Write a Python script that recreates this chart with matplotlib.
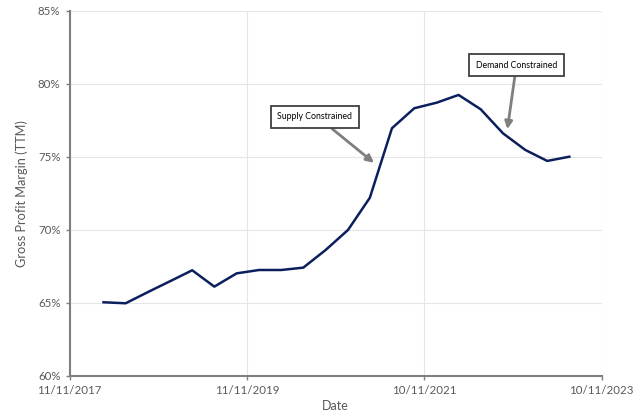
import pandas as pd
import matplotlib.pyplot as plt
import matplotlib.dates as mdates
from matplotlib.ticker import FuncFormatter

# Kvartalsdata, bruttomarginal (TTM) i procent
dates = ["2018-03-31", "2018-06-30", "2018-09-30", "2018-12-31",
         "2019-03-31", "2019-06-30", "2019-09-30", "2019-12-31",
         "2020-03-31", "2020-06-30", "2020-09-30", "2020-12-31",
         "2021-03-31", "2021-06-30", "2021-09-30", "2021-12-31",
         "2022-03-31", "2022-06-30", "2022-09-30", "2022-12-31",
         "2023-03-31", "2023-06-30"]
margin = [65.05, 64.98, 65.75, 66.5, 67.24, 66.12, 67.03, 67.26,
          67.26, 67.42, 68.63, 70.0, 72.21, 76.97, 78.34, 78.72,
          79.25, 78.27, 76.62, 75.48, 74.73, 75.02]

x_ticks = ["2017-11-11", "2019-11-11", "2021-11-10", "2023-11-10"]
y_ticks = [60, 65, 70, 75, 80, 85]

plt.rcParams['font.family'] = ['Lato', 'DejaVu Sans']

d = pd.to_datetime(dates)
xt = pd.to_datetime(x_ticks)

fig = plt.figure(figsize=(6.4, 4.18), dpi=100)
ax = fig.add_axes([0.1086, 0.1005, 0.8315, 0.8732])

ax.plot(d, margin, color='#0b1f5c', linewidth=1.8, solid_joinstyle='round')

ax.set_xlim(xt[0], xt[-1])
ax.set_ylim(60, 85)
ax.set_xticks(xt)
ax.set_yticks(y_ticks)
ax.xaxis.set_major_formatter(mdates.DateFormatter('%d/%m/%Y'))
ax.yaxis.set_major_formatter(FuncFormatter(lambda v, p: f"{v:.0f}%"))

ax.grid(True, color='#e6e6e6', linewidth=0.8)
ax.set_axisbelow(True)
for s in ['top', 'right']:
    ax.spines[s].set_visible(False)
for s in ['left', 'bottom']:
    ax.spines[s].set_color('#7f7f7f')
    ax.spines[s].set_linewidth(1.5)
ax.tick_params(colors='#595959', labelsize=8.3, length=3, width=1, direction='out')
ax.tick_params(axis='both', color='#7f7f7f')

ax.set_xlabel('Date', fontsize=9, color='#595959', labelpad=3)
ax.set_ylabel('Gross Profit Margin (TTM)', fontsize=9.2, color='#595959', labelpad=7)

box = dict(boxstyle='square,pad=0.75', fc='white', ec='#404040', lw=1.3)
ax.annotate('Supply Constrained', xy=(pd.Timestamp('2021-04-17'), 74.6),
            xytext=(pd.Timestamp('2020-08-17'), 77.74), fontsize=6.3,
            ha='center', va='center', bbox=box,
            arrowprops=dict(arrowstyle='-|>,head_length=0.7,head_width=0.35',
                            color='#7f7f7f', lw=2, shrinkA=0, shrinkB=0,
                            relpos=(0.61, 0)))
ax.annotate('Demand Constrained', xy=(pd.Timestamp('2022-10-18'), 76.9),
            xytext=(pd.Timestamp('2022-11-25'), 81.3), fontsize=6.3,
            ha='center', va='center', bbox=box,
            arrowprops=dict(arrowstyle='-|>,head_length=0.7,head_width=0.35',
                            color='#7f7f7f', lw=2, shrinkA=0, shrinkB=0,
                            relpos=(0.49, 0)))

fig.savefig('out.png', dpi=100)
